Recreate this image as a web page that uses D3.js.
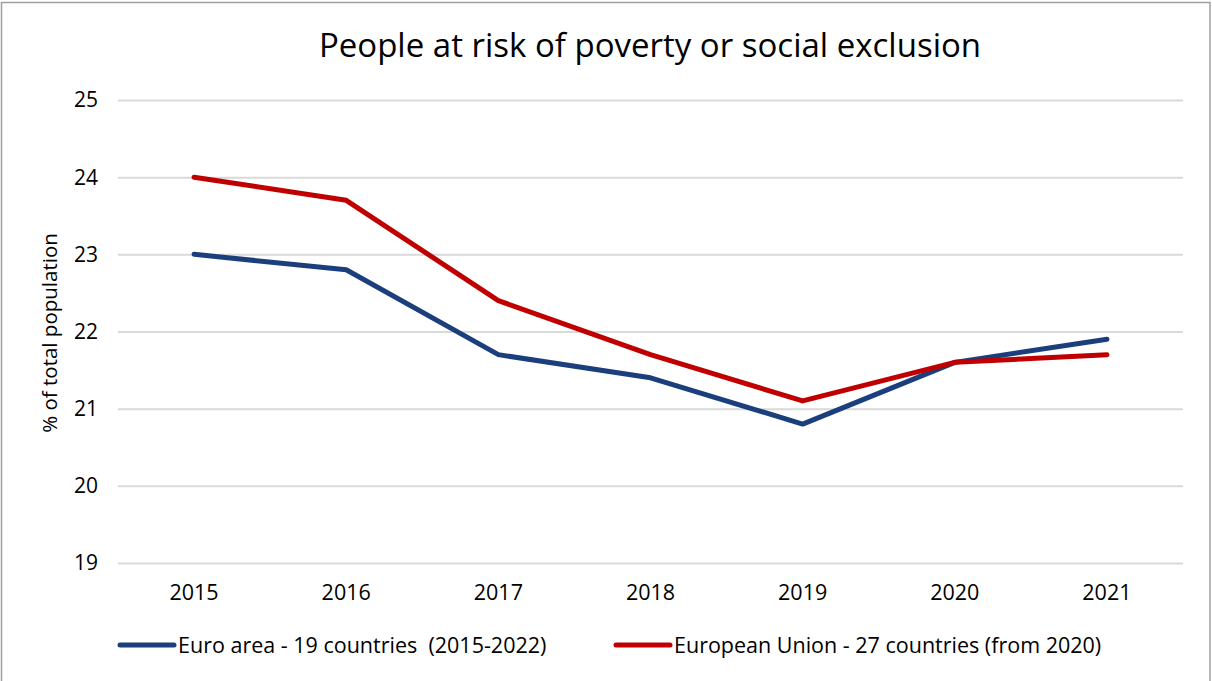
<!DOCTYPE html>
<html>
<head>
<meta charset="utf-8">
<script src="https://cdn.jsdelivr.net/npm/d3@7"></script>
<style>
  body { margin: 0; background: #fff; }
  svg { font-family: "Open Sans", "Noto Sans", sans-serif; }
  text { white-space: pre; }
</style>
</head>
<body>
<div id="chart-area"></div>
<script>
// DATA
const years = ['2015', '2016', '2017', '2018', '2019', '2020', '2021']
const euroArea = [23.0, 22.8, 21.7, 21.4, 20.8, 21.6, 21.9]
const euUnion = [24.0, 23.7, 22.4, 21.7, 21.1, 21.6, 21.7]
const yTicks = [19, 20, 21, 22, 23, 24, 25]
const seriesNames = ['Euro area - 19 countries  (2015-2022)', 'European Union - 27 countries (from 2020)']

const width = 1212, height = 681
const margin = { left: 118, right: 29, top: 100, bottom: 118 }

const svg = d3.select('#chart-area')
              .append('svg')
              .attr('width', width)
              .attr('height', height)

// FRAME
svg.append('rect')
   .attr('x', 1.5).attr('y', 2.5)
   .attr('width', width - 3.5).attr('height', height)
   .attr('fill', 'none')
   .attr('stroke', '#a0a0a0')
   .attr('stroke-width', 1.5)

// SCALES
const x = d3.scalePoint()
            .domain(years)
            .range([margin.left, width - margin.right])
            .padding(0.5)

const y = d3.scaleLinear()
            .domain([19, 25])
            .range([height - margin.bottom, margin.top])

// GRIDLINES
svg.append('g')
   .attr('transform', `translate(${margin.left},0)`)
   .call(d3.axisLeft(y).tickValues(yTicks)
           .tickSize(-(width - margin.left - margin.right))
           .tickFormat(''))
   .call(g => g.select('.domain').remove())
   .call(g => g.selectAll('line').attr('stroke', '#d9d9d9').attr('stroke-width', 2))

// Y LABELS
svg.append('g')
   .selectAll('text')
   .data(yTicks)
   .enter()
   .append('text')
   .attr('x', 98)
   .attr('y', d => y(d))
   .attr('dy', '0.35em')
   .attr('text-anchor', 'end')
   .attr('font-size', 21)
   .attr('fill', '#000')
   .text(d => d)

// X LABELS
svg.append('g')
   .selectAll('text')
   .data(years)
   .enter()
   .append('text')
   .attr('x', d => x(d))
   .attr('y', 600)
   .attr('text-anchor', 'middle')
   .attr('font-size', 21.5)
   .attr('fill', '#000')
   .text(d => d)

// TITLE
svg.append('text')
   .attr('x', 650)
   .attr('y', 57)
   .attr('text-anchor', 'middle')
   .attr('font-size', 33)
   .attr('fill', '#000')
   .text('People at risk of poverty or social exclusion')

// Y AXIS TITLE
svg.append('text')
   .attr('transform', 'translate(57,333) rotate(-90)')
   .attr('text-anchor', 'middle')
   .attr('font-size', 20.5)
   .attr('fill', '#000')
   .text('% of total population')

// LINES
const line = d3.line()
               .x((d, i) => x(years[i]))
               .y(d => y(d))

const series = [
    { name: seriesNames[0], values: euroArea, color: '#1b3f7c' },
    { name: seriesNames[1], values: euUnion, color: '#c00000' }
]

svg.selectAll('path.series')
   .data(series)
   .enter()
   .append('path')
   .attr('class', 'series')
   .attr('d', d => line(d.values))
   .attr('fill', 'none')
   .attr('stroke', d => d.color)
   .attr('stroke-width', 5)
   .attr('stroke-linecap', 'round')
   .attr('stroke-linejoin', 'round')

// LEGEND
const legendX = [120, 616]
const legend = svg.selectAll('g.legend')
                  .data(series)
                  .enter()
                  .append('g')
                  .attr('class', 'legend')
                  .attr('transform', (d, i) => `translate(${legendX[i]},645)`)

legend.append('line')
      .attr('x1', 0).attr('x2', 54)
      .attr('stroke', d => d.color)
      .attr('stroke-width', 5)
      .attr('stroke-linecap', 'round')

legend.append('text')
      .attr('x', 58)
      .attr('dy', '0.35em')
      .attr('font-size', 21.5)
      .attr('fill', '#000')
      .text(d => d.name)
</script>
</body>
</html>
